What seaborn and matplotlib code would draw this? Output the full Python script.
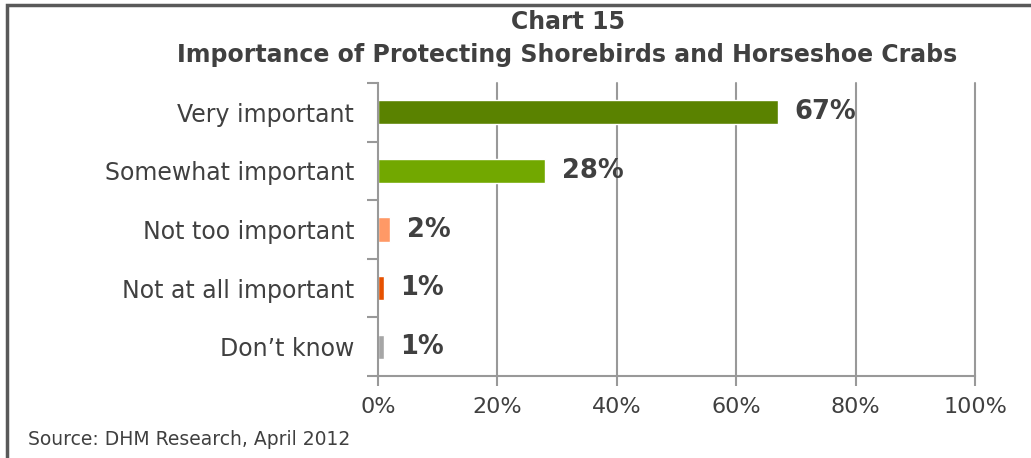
import matplotlib
matplotlib.use("Agg")
import matplotlib.pyplot as plt
from matplotlib.patches import Rectangle
import seaborn as sns
import pandas as pd

categories = ["Very important", "Somewhat important", "Not too important",
              "Not at all important", "Don\u2019t know"]
values = [67, 28, 2, 1, 1]
bar_colors = ["#5a8200", "#72a800", "#ff9966", "#e65100", "#a6a6a6"]
xticks = [0, 20, 40, 60, 80, 100]
xtick_labels = ["0%", "20%", "40%", "60%", "80%", "100%"]
title_line1 = "Chart 15"
title_line2 = "Importance of Protecting Shorebirds and Horseshoe Crabs"
source = "Source: DHM Research, April 2012"

sns.set_theme(style="white")
plt.rcParams["font.family"] = ["DejaVu Sans"]

text_color = "#404040"
grid_color = "#999999"

df = pd.DataFrame({"category": categories, "value": values})

fig = plt.figure(figsize=(10.31, 4.58), dpi=100)
ax = fig.add_axes([0.3666, 0.179, 0.5791, 0.6398])

sns.barplot(data=df, x="value", y="category", hue="category",
            palette=bar_colors, order=categories, hue_order=categories,
            width=0.41, saturation=1, legend=False, ax=ax)

ax.set_xlim(0, 100)
ax.set_ylim(len(categories) - 0.5, -0.5)
ax.set_xticks(xticks)
ax.set_xticklabels(xtick_labels, fontsize=16, color=text_color)
ax.tick_params(axis="x", length=7, width=1.5, color=grid_color, pad=8,
               direction="out", bottom=True)
ax.set_yticks(range(len(categories)))
ax.set_yticklabels(categories, fontsize=17, color=text_color)
ax.tick_params(axis="y", length=0, pad=17)
# boundary ticks between categories on the value axis
ax.set_yticks([i - 0.5 for i in range(len(categories) + 1)], minor=True)
ax.tick_params(axis="y", which="minor", length=8, width=1.5,
               color=grid_color, left=True)
ax.set_xlabel("")
ax.set_ylabel("")

for x in xticks[1:]:
    ax.axvline(x, color=grid_color, lw=1.5, zorder=0, clip_on=False)
for side in ["top", "right"]:
    ax.spines[side].set_visible(False)
for side in ["left", "bottom"]:
    ax.spines[side].set_color(grid_color)
    ax.spines[side].set_linewidth(1.5)

for i, v in enumerate(values):
    ax.annotate(f"{v}%", xy=(v, i), xytext=(12, 0), textcoords="offset points",
                ha="left", va="center", fontsize=18.5, fontweight="bold",
                color=text_color)

fig.text(0.5505, 0.952, title_line1, ha="center", va="center", fontsize=17,
         fontweight="bold", color=text_color)
fig.text(0.5505, 0.880, title_line2, ha="center", va="center", fontsize=17,
         fontweight="bold", color=text_color)
fig.text(0.027, 0.04, source, ha="left", va="center", fontsize=13.5,
         color=text_color)

fig.patches.append(Rectangle((0.0068, -0.01), 1.0, 0.999, transform=fig.transFigure,
                             fill=False, edgecolor="#595959", lw=2.5))

fig.savefig("out.png", dpi=100)
